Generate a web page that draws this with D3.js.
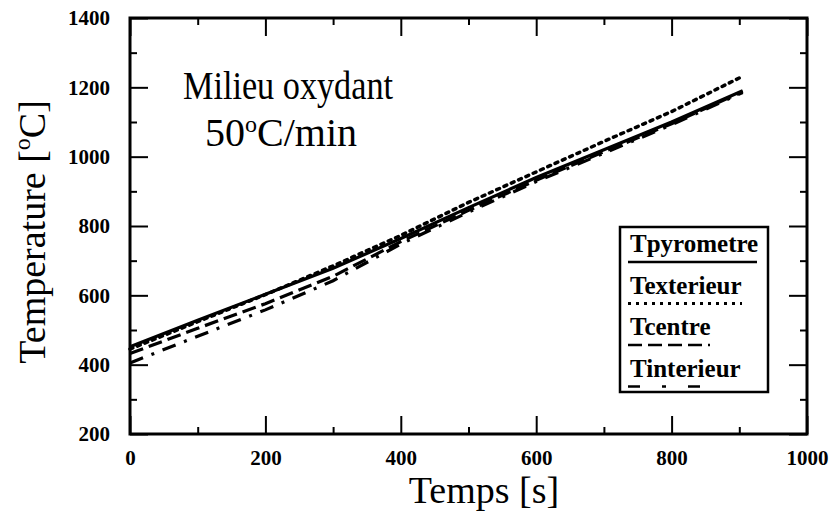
<!DOCTYPE html>
<html>
<head>
<meta charset="utf-8">
<script src="https://cdn.jsdelivr.net/npm/d3@7"></script>
<style>
  body { margin: 0; background: #fff; }
  svg { display: block; }
</style>
</head>
<body>
<svg id="chart" width="831" height="513"></svg>
<script>
// temps en secondes
const times = [0, 100, 200, 300, 400, 500, 600, 700, 800, 905];
const tPyrometre = [452, 528, 603, 678, 764, 853, 940, 1020, 1100, 1190];
const tExterieur = [445, 524, 602, 685, 773, 868, 956, 1044, 1130, 1232];
const tCentre    = [432, 505, 576, 655, 755, 845, 932, 1014, 1095, 1188];
const tInterieur = [405, 482, 558, 642, 748, 840, 928, 1010, 1092, 1185];

const seriesNames = ["Tpyrometre", "Texterieur", "Tcentre", "Tinterieur"];
const xTicks = [0, 200, 400, 600, 800, 1000];
const yTicks = [200, 400, 600, 800, 1000, 1200, 1400];

const dashes = [null, "3,5", "14,6", "14,9,3,9"];
const legendDashes = [null, "3,5", "14,6", "12,22,4,22"];
const legendLen = [129, 114, 82, 84];

const svg = d3.select("#chart");
const font = "'Liberation Serif', 'Times New Roman', serif";
const plot = {left: 130, right: 807, top: 18, bottom: 434};

const x = d3.scaleLinear().domain([0, 1000]).range([plot.left, plot.right]);
const y = d3.scaleLinear().domain([200, 1400]).range([plot.bottom, plot.top]);

const xMinor = d3.range(100, 1000, 200);
const yMinor = d3.range(300, 1400, 200);

function styleAxis(g) {
    g.select(".domain").remove();
    g.selectAll(".tick line").attr("stroke", "#000").attr("stroke-width", 2);
    g.selectAll("text")
        .attr("font-family", font)
        .attr("font-weight", "bold")
        .attr("font-size", 21)
        .attr("fill", "#000");
}

// graduations majeures + mineures, vers l'interieur, sur les 4 cotes
svg.append("g").attr("transform", `translate(0,${plot.bottom})`)
    .call(d3.axisBottom(x).tickValues(xTicks).tickSize(-18).tickPadding(16).tickFormat(d3.format("d")))
    .call(styleAxis);
svg.append("g").attr("transform", `translate(0,${plot.bottom})`)
    .call(d3.axisBottom(x).tickValues(xMinor).tickSize(-7).tickFormat(""))
    .call(styleAxis);
svg.append("g").attr("transform", `translate(0,${plot.top})`)
    .call(d3.axisTop(x).tickValues(xTicks).tickSize(-18).tickFormat(""))
    .call(styleAxis);
svg.append("g").attr("transform", `translate(0,${plot.top})`)
    .call(d3.axisTop(x).tickValues(xMinor).tickSize(-7).tickFormat(""))
    .call(styleAxis);

svg.append("g").attr("transform", `translate(${plot.left},0)`)
    .call(d3.axisLeft(y).tickValues(yTicks).tickSize(-18).tickPadding(20).tickFormat(d3.format("d")))
    .call(styleAxis);
svg.append("g").attr("transform", `translate(${plot.left},0)`)
    .call(d3.axisLeft(y).tickValues(yMinor).tickSize(-7).tickFormat(""))
    .call(styleAxis);
svg.append("g").attr("transform", `translate(${plot.right},0)`)
    .call(d3.axisRight(y).tickValues(yTicks).tickSize(-18).tickFormat(""))
    .call(styleAxis);
svg.append("g").attr("transform", `translate(${plot.right},0)`)
    .call(d3.axisRight(y).tickValues(yMinor).tickSize(-7).tickFormat(""))
    .call(styleAxis);

// cadre
svg.append("rect")
    .attr("x", plot.left).attr("y", plot.top)
    .attr("width", plot.right - plot.left).attr("height", plot.bottom - plot.top)
    .attr("fill", "none").attr("stroke", "#000").attr("stroke-width", 3);

// courbes
const data = [tPyrometre, tExterieur, tCentre, tInterieur];
const line = d3.line().x((d, i) => x(times[i])).y(d => y(d));

svg.append("g").selectAll("path")
    .data(data)
    .join("path")
    .attr("d", line)
    .attr("fill", "none")
    .attr("stroke", "#000")
    .attr("stroke-width", (d, i) => i === 1 ? 3.5 : 3.2)
    .attr("stroke-linecap", (d, i) => i === 1 ? "round" : "butt")
    .attr("stroke-dasharray", (d, i) => dashes[i]);

// legende
const legend = svg.append("g");
legend.append("rect")
    .attr("x", 620).attr("y", 227).attr("width", 148).attr("height", 165)
    .attr("fill", "#fff").attr("stroke", "#000").attr("stroke-width", 2.5);

const items = legend.selectAll(".item")
    .data(seriesNames)
    .join("g")
    .attr("class", "item")
    .attr("transform", (d, i) => `translate(630,${252 + i * 41.5})`);

items.append("text")
    .text(d => d)
    .attr("font-family", font)
    .attr("font-size", 25)
    .attr("font-weight", "bold")
    .attr("fill", "#000");

items.append("line")
    .attr("x1", -2).attr("x2", (d, i) => -2 + legendLen[i])
    .attr("y1", 10).attr("y2", 10)
    .attr("stroke", "#000")
    .attr("stroke-width", (d, i) => i === 1 ? 3 : 2.5)
    .attr("stroke-dasharray", (d, i) => legendDashes[i]);

// titres
svg.append("text")
    .attr("x", 183).attr("y", 99)
    .attr("font-family", font).attr("font-size", 40).attr("fill", "#000")
    .attr("textLength", 210).attr("lengthAdjust", "spacingAndGlyphs")
    .text("Milieu oxydant");

const rate = svg.append("text")
    .attr("x", 205).attr("y", 146)
    .attr("font-family", font).attr("font-size", 40).attr("fill", "#000");
rate.append("tspan").text("50");
rate.append("tspan").attr("dy", -14).attr("font-size", 24).text("o");
rate.append("tspan").attr("dy", 14).text("C/min");

svg.append("text")
    .attr("x", 484).attr("y", 503)
    .attr("text-anchor", "middle")
    .attr("font-family", font).attr("font-size", 38).attr("fill", "#000")
    .text("Temps [s]");

const ylab = svg.append("text")
    .attr("transform", "translate(45,232) rotate(-90)")
    .attr("text-anchor", "middle")
    .attr("font-family", font).attr("font-size", 38).attr("fill", "#000");
ylab.append("tspan").text("Temperature [");
ylab.append("tspan").attr("dy", -15).attr("font-size", 24).text("o");
ylab.append("tspan").attr("dy", 15).text("C]");
</script>
</body>
</html>
